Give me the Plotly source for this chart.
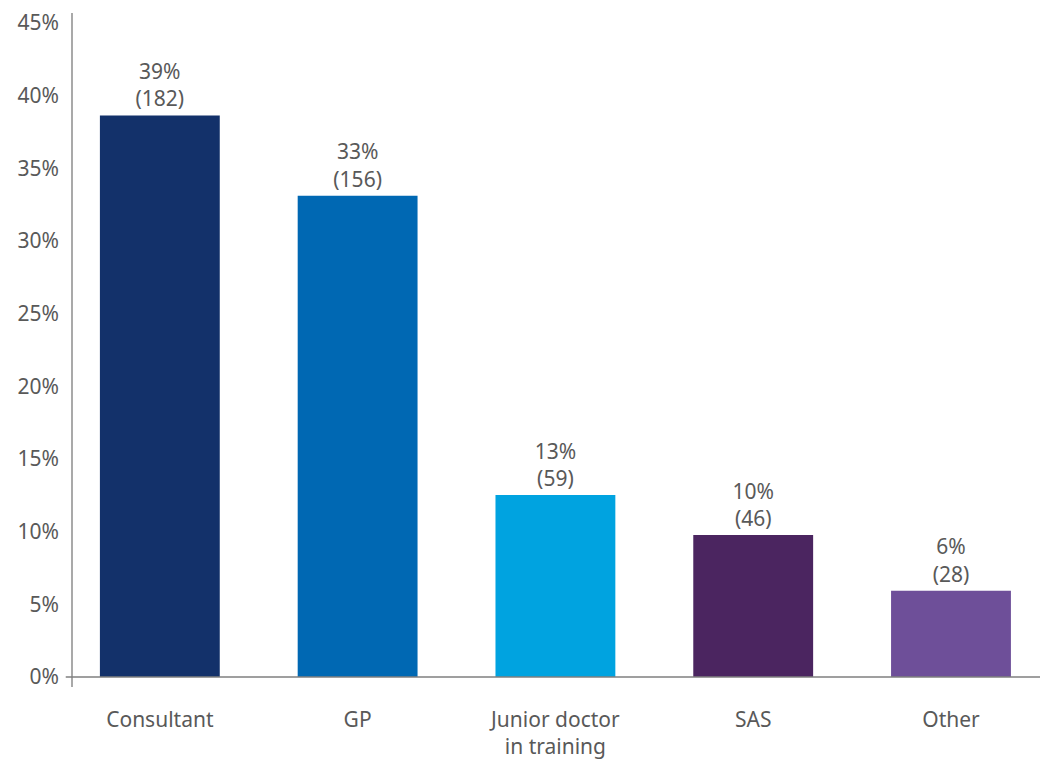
import plotly.graph_objects as go

# Respondent role breakdown
roles = ["Consultant", "GP", "Junior doctor<br>in training", "SAS", "Other"]
counts = [182, 156, 59, 46, 28]
shares = [38.64, 33.12, 12.53, 9.77, 5.94]  # percent of respondents
colors = ["#13316a", "#0068b3", "#00a3e0", "#4b2560", "#6e4f99"]

y_ticks = [0, 5, 10, 15, 20, 25, 30, 35, 40, 45]

labels = [f"{s:.0f}%<br>({c})" for s, c in zip(shares, counts)]

font_family = "Noto Sans, Open Sans, sans-serif"
text_color = "#595959"
fsize = 21

fig = go.Figure(
    go.Bar(
        x=roles,
        y=shares,
        marker=dict(color=colors, line=dict(width=0)),
        width=0.606,
        text=labels,
        textposition="outside",
        textfont=dict(family=font_family, size=fsize, color=text_color),
        cliponaxis=False,
        hoverinfo="skip",
    )
)

fig.update_layout(
    width=1044,
    height=761,
    margin=dict(l=73, r=4, t=13, b=74),
    paper_bgcolor="white",
    plot_bgcolor="white",
    showlegend=False,
    font=dict(family=font_family, size=fsize, color=text_color),
    xaxis=dict(
        range=[-0.439, 4.45],
        showline=False,
        showgrid=False,
        zeroline=False,
        ticks="",
        ticklabelstandoff=18,
        automargin=False,
        tickfont=dict(size=fsize, color=text_color),
    ),
    yaxis=dict(
        range=[-0.688, 45.688],
        tickvals=y_ticks,
        ticktext=[f"{v}%" for v in y_ticks],
        showline=True,
        linecolor="#a9a9a9",
        linewidth=1.5,
        showgrid=False,
        zeroline=False,
        ticks="",
        ticklabelstandoff=8,
        automargin=False,
        tickfont=dict(size=fsize, color=text_color),
    ),
    shapes=[
        # baseline at 0% with a short stub left of the value axis
        dict(
            type="line",
            xref="paper",
            yref="y",
            x0=-0.0075,
            x1=1,
            y0=0,
            y1=0,
            line=dict(color="#7f7f7f", width=1.5),
            layer="above",
        )
    ],
)

fig.write_html("out.html")
